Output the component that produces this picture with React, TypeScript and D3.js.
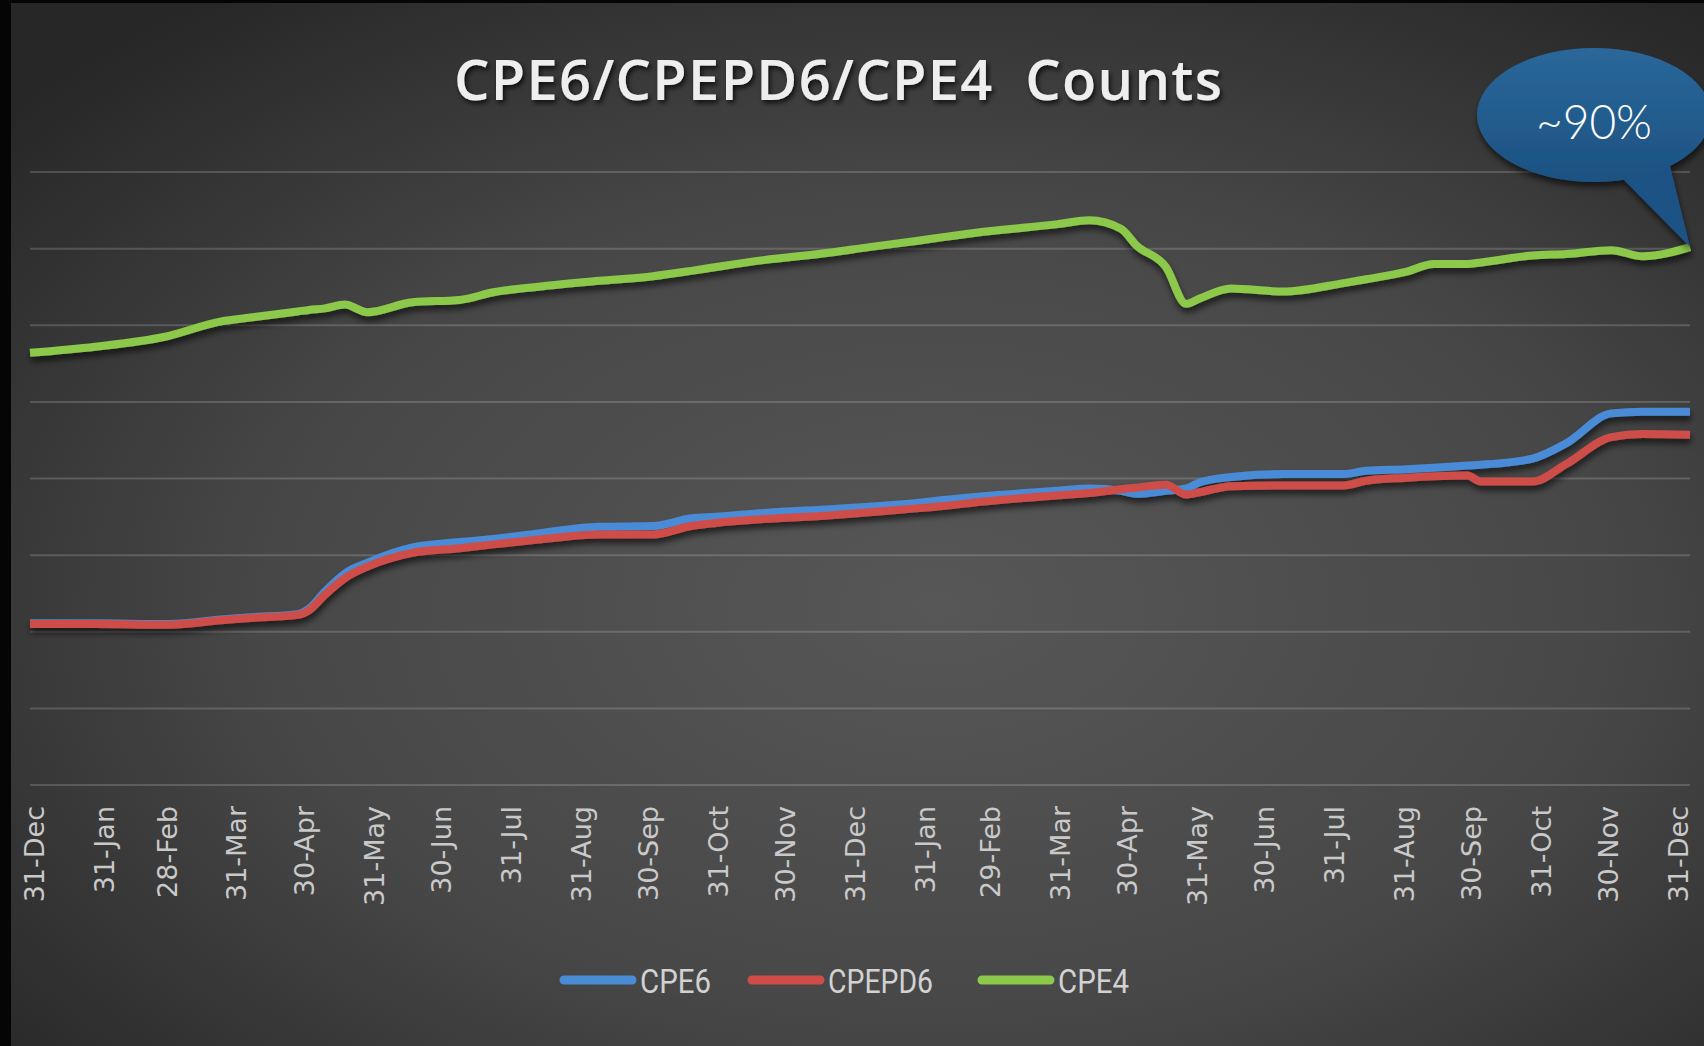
import React from 'react';
import * as d3 from 'd3';

// sample dates (roughly every few weeks, denser at the bends)
const dates = [
  '2014-12-29', '2015-01-27', '2015-02-27', '2015-03-24', '2015-04-06', '2015-04-27',
  '2015-05-02', '2015-05-09', '2015-05-18', '2015-05-28', '2015-06-17', '2015-07-08',
  '2015-07-23', '2015-08-11', '2015-09-08', '2015-10-02', '2015-10-19', '2015-10-30',
  '2015-11-20', '2015-12-20', '2016-01-06', '2016-01-27', '2016-02-08', '2016-02-26',
  '2016-03-30', '2016-04-13', '2016-04-27', '2016-05-04', '2016-05-17', '2016-05-26',
  '2016-06-01', '2016-06-15', '2016-07-08', '2016-08-04', '2016-08-14', '2016-09-01',
  '2016-09-13', '2016-09-28', '2016-10-04', '2016-10-27', '2016-11-11', '2016-12-01',
  '2016-12-15', '2017-01-05'
];

// values in gridline units (no y labels on the original)
const cpe6 = [
  2.11, 2.11, 2.1, 2.16, 2.19, 2.23, 2.3, 2.52, 2.76, 2.9, 3.1, 3.17,
  3.21, 3.28, 3.37, 3.38, 3.48, 3.5, 3.55, 3.6, 3.63, 3.68, 3.72, 3.77,
  3.84, 3.87, 3.84, 3.8, 3.84, 3.87, 3.95, 4.02, 4.06, 4.06, 4.1, 4.12,
  4.14, 4.17, 4.18, 4.26, 4.46, 4.85, 4.87, 4.87
];
const cpepd6 = [
  2.1, 2.1, 2.09, 2.15, 2.18, 2.22, 2.28, 2.48, 2.7, 2.85, 3.03, 3.09,
  3.14, 3.2, 3.27, 3.27, 3.38, 3.42, 3.47, 3.52, 3.56, 3.61, 3.64, 3.7,
  3.78, 3.81, 3.86, 3.88, 3.92, 3.79, 3.82, 3.9, 3.91, 3.91, 3.97, 4.01,
  4.03, 4.04, 3.96, 3.96, 4.19, 4.54, 4.58, 4.57
];
const cpe4 = [
  5.64, 5.72, 5.85, 6.05, 6.1, 6.18, 6.2, 6.22, 6.27, 6.17, 6.3, 6.33,
  6.43, 6.5, 6.58, 6.64, 6.71, 6.76, 6.85, 6.95, 7.02, 7.1, 7.15, 7.22,
  7.32, 7.37, 7.26, 7.04, 6.76, 6.28, 6.35, 6.48, 6.44, 6.55, 6.6, 6.7,
  6.8, 6.8, 6.82, 6.91, 6.93, 6.98, 6.9, 7.02
];

const tickDates = [
  '2014-12-31', '2015-01-31', '2015-02-28', '2015-03-31', '2015-04-30', '2015-05-31',
  '2015-06-30', '2015-07-31', '2015-08-31', '2015-09-30', '2015-10-31', '2015-11-30',
  '2015-12-31', '2016-01-31', '2016-02-29', '2016-03-31', '2016-04-30', '2016-05-31',
  '2016-06-30', '2016-07-31', '2016-08-31', '2016-09-30', '2016-10-31', '2016-11-30',
  '2016-12-31'
];
const gridValues = [0, 1, 2, 3, 4, 5, 6, 7, 8];

const seriesNames = ['CPE6', 'CPEPD6', 'CPE4'];
const seriesColors = ['#4a8bd6', '#cf4d49', '#8cc84a'];

const title = 'CPE6/CPEPD6/CPE4  Counts';
const calloutText = '~90%';

const W = 1704;
const H = 1046;

const parse = d3.timeParse('%Y-%m-%d');
const fmt = d3.timeFormat('%-d-%b');

export default function App() {
  const x = d3
    .scaleTime()
    .domain([parse(dates[0]), parse(dates[dates.length - 1])])
    .range([30, 1690]);
  const y = d3.scaleLinear().domain([0, 8]).range([785, 172]);

  const line = d3
    .line()
    .x(d => x(d.date))
    .y(d => y(d.v))
    .curve(d3.curveMonotoneX);

  const allSeries = [cpe6, cpepd6, cpe4].map((vals, i) => ({
    name: seriesNames[i],
    color: seriesColors[i],
    points: vals.map((v, j) => ({ date: parse(dates[j]), v }))
  }));

  const last = allSeries[2].points[allSeries[2].points.length - 1];
  const tipX = x(last.date);
  const tipY = y(last.v);

  // legend layout (x of each swatch, width of each label)
  const legendX = [560, 748, 978];
  const legendW = [71, 105, 71];

  return (
    <svg
      width={W}
      height={H}
      style={{ position: 'absolute', left: 0, top: 0, display: 'block' }}
    >
      <defs>
        <radialGradient id="bg" cx="0.55" cy="0.58" r="0.72">
          <stop offset="0" stopColor="#575757" />
          <stop offset="0.55" stopColor="#474747" />
          <stop offset="1" stopColor="#272727" />
        </radialGradient>
        <linearGradient id="bubble" x1="0" y1="0" x2="0" y2="1">
          <stop offset="0" stopColor="#2a679a" />
          <stop offset="1" stopColor="#1c5282" />
        </linearGradient>
        <filter id="shadow" x="-5%" y="-20%" width="110%" height="160%">
          <feDropShadow dx="1" dy="5" stdDeviation="3" floodColor="#000" floodOpacity="0.6" />
        </filter>
        <filter id="tshadow" x="-5%" y="-20%" width="110%" height="160%">
          <feDropShadow dx="2" dy="3" stdDeviation="2.5" floodColor="#000" floodOpacity="0.75" />
        </filter>
      </defs>

      <rect width={W} height={H} fill="url(#bg)" />
      <rect x={0} y={0} width={11} height={H} fill="#050505" />
      <rect x={0} y={0} width={W} height={3} fill="#050505" />

      <text
        x={838}
        y={100}
        textAnchor="middle"
        fontFamily="'Open Sans', 'DejaVu Sans', sans-serif"
        fontWeight={600}
        fontSize={56}
        fill="#eeeeee"
        textLength={768}
        lengthAdjust="spacing"
        filter="url(#tshadow)"
        style={{ whiteSpace: 'pre' }}
      >
        {title}
      </text>

      {gridValues.map(g => (
        <line
          key={g}
          x1={30}
          x2={1690}
          y1={y(g)}
          y2={y(g)}
          stroke="rgba(255,255,255,0.17)"
          strokeWidth={2}
        />
      ))}

      {tickDates.map(t => {
        const d = parse(t);
        return (
          <text
            key={t}
            transform={`translate(${x(d)},806) rotate(-90)`}
            dy="0.35em"
            textAnchor="end"
            fontFamily="'DejaVu Sans', sans-serif"
            fontSize={27}
            fill="#c9c9c9"
          >
            {fmt(d)}
          </text>
        );
      })}

      <g filter="url(#shadow)">
        {allSeries.map(s => (
          <path
            key={s.name}
            d={line(s.points)}
            fill="none"
            stroke={s.color}
            strokeWidth={8}
            strokeLinejoin="round"
          />
        ))}
      </g>

      {allSeries.map((s, i) => (
        <g key={s.name} transform={`translate(${legendX[i]},980)`}>
          <line x1={4} x2={72} y1={0} y2={0} stroke={s.color} strokeWidth={9} strokeLinecap="round" />
          <text
            x={80}
            y={0}
            dy="0.37em"
            fontFamily="'Liberation Sans Narrow', 'Roboto', sans-serif"
            fontSize={34}
            fill="#d2d2d2"
            textLength={legendW[i]}
            lengthAdjust="spacingAndGlyphs"
          >
            {s.name}
          </text>
        </g>
      ))}

      <g filter="url(#shadow)">
        <path
          d={`M1616,172 L1668,158 L${tipX},${tipY} Z`}
          fill="#1d5384"
        />
        <ellipse cx={1594} cy={115} rx={117} ry={67} fill="url(#bubble)" />
      </g>
      <text
        x={1594}
        y={139}
        textAnchor="middle"
        fontFamily="'Lato', 'Open Sans', sans-serif"
        fontWeight={300}
        fontSize={48}
        fill="#ffffff"
        textLength={116}
        lengthAdjust="spacingAndGlyphs"
      >
        {calloutText}
      </text>
    </svg>
  );
}
